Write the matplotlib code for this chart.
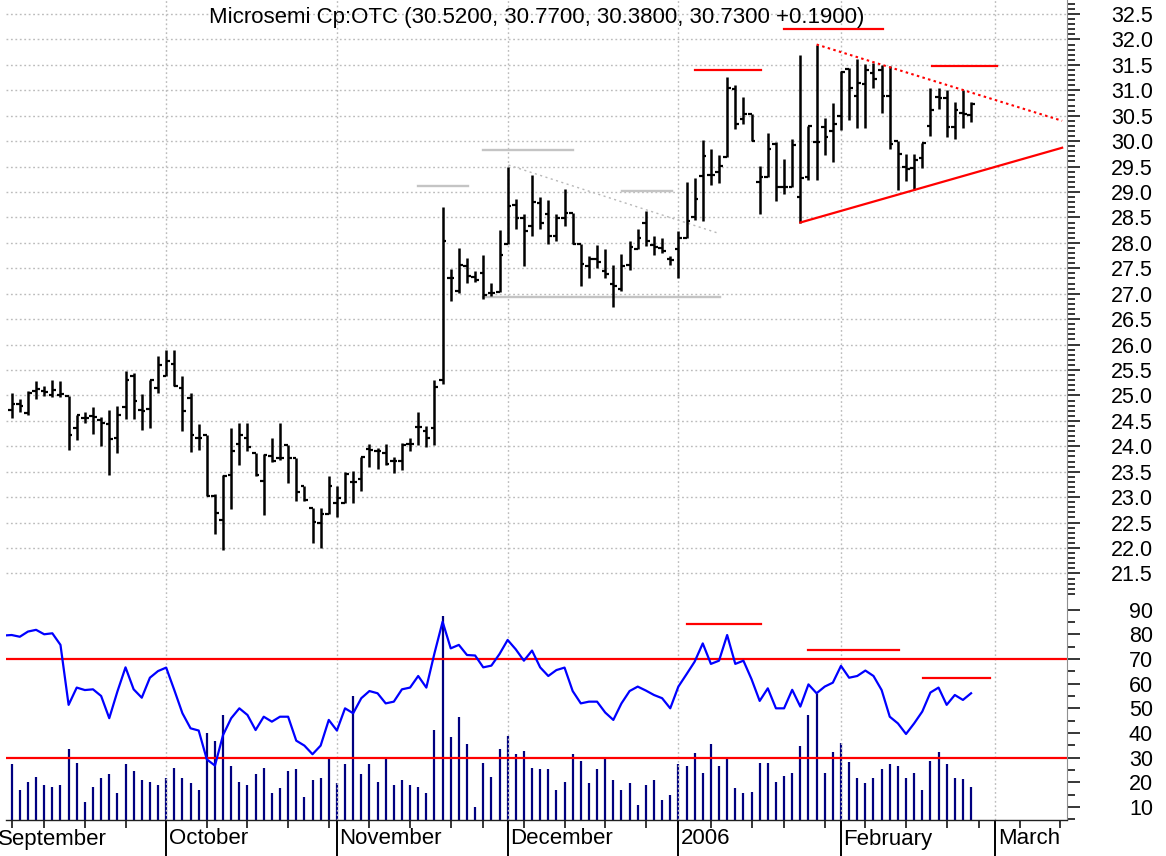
import numpy as np
import pandas as pd
import matplotlib
matplotlib.use("Agg")
import matplotlib.pyplot as plt
from matplotlib.transforms import blended_transform_factory

plt.rcParams['font.family'] = ['Liberation Sans', 'DejaVu Sans']

# ---------------- data ----------------
title = "Microsemi Cp:OTC (30.5200, 30.7700, 30.3800, 30.7300 +0.1900)"
holidays = ['2005-09-05', '2005-11-24', '2005-12-26', '2006-01-02', '2006-01-16', '2006-02-20']
first_day = '2005-09-06'
month_labels = ['September', 'October', 'November', 'December', '2006', 'February', 'March']

opens = [24.72,24.84,24.66,25.08,25.08,25.00,25.00,24.98,24.35,24.55,
         24.60,24.51,24.43,24.17,24.77,25.38,24.72,24.74,25.15,25.38,
         25.61,25.15,24.95,24.16,24.23,23.02,22.55,23.44,24.05,24.16,
         23.87,23.31,23.80,23.77,24.03,23.77,23.21,22.79,22.49,22.66,
         22.89,22.89,23.29,23.36,23.95,23.90,23.87,23.72,23.71,24.05,
         24.38,24.30,24.35,25.30,27.30,27.05,27.55,27.33,27.40,27.02,
         27.04,27.97,28.75,28.49,28.33,28.78,28.57,28.13,28.49,28.59,
         27.97,27.55,27.68,27.45,27.20,27.10,27.56,27.87,28.39,27.96,
         27.90,27.68,27.87,28.10,28.50,29.32,29.34,29.40,29.68,31.02,
         30.44,30.53,29.20,29.30,29.95,29.10,29.10,28.90,29.30,29.98,
         30.28,30.20,30.50,31.42,30.89,31.13,31.34,31.40,30.89,30.00,
         29.50,29.48,29.67,30.29,30.86,30.84,30.28,30.55,30.52]
highs = [25.05,24.92,25.08,25.28,25.18,25.31,25.28,24.98,24.62,24.67,
         24.77,24.58,24.71,24.80,25.48,25.44,25.02,25.31,25.78,25.89,
         25.89,25.39,25.05,24.43,24.23,23.06,23.44,24.36,24.46,24.46,
         23.87,23.84,24.17,24.46,24.03,23.77,23.21,22.79,22.79,23.42,
         23.22,23.49,23.51,23.79,24.05,23.97,24.05,23.79,24.06,24.16,
         24.67,24.39,25.30,28.70,27.49,27.89,27.70,27.44,27.76,27.22,
         28.26,29.50,28.87,28.57,29.34,28.90,28.85,28.57,29.06,28.59,
         27.97,27.74,27.95,27.87,27.56,27.79,28.03,28.28,28.62,28.13,
         28.10,27.74,28.23,29.19,29.28,30.03,29.85,29.72,31.26,31.10,
         30.87,30.54,29.52,30.16,29.98,29.65,30.05,31.70,30.29,31.90,
         30.46,30.74,31.37,31.44,31.62,31.52,31.54,31.50,31.47,30.00,
         29.75,29.74,29.96,31.04,31.04,31.00,30.77,31.00,30.77]
lows = [24.56,24.67,24.62,24.92,24.98,24.97,24.97,23.92,24.12,24.45,
        24.25,24.01,23.44,23.86,24.54,24.53,24.33,24.36,25.05,25.38,
        25.19,24.30,23.88,23.92,23.02,22.28,21.97,22.76,23.64,23.90,
        23.41,22.64,23.70,23.73,23.28,22.92,22.92,22.10,22.00,22.66,
        22.60,22.89,22.89,23.12,23.60,23.56,23.64,23.48,23.53,23.90,
        24.03,23.99,24.03,25.23,26.86,27.02,27.22,27.24,26.90,26.96,
        27.04,27.97,28.28,27.55,28.13,28.28,27.98,28.03,28.33,27.97,
        27.15,27.30,27.51,27.30,26.73,27.06,27.46,27.87,27.94,27.77,
        27.81,27.56,27.30,28.10,28.44,28.42,29.14,29.17,29.68,30.23,
        30.34,30.00,28.56,29.30,28.82,28.97,29.10,28.39,29.23,29.23,
        29.72,29.58,30.21,30.42,30.25,30.25,31.04,30.56,29.85,29.03,
        29.22,29.03,29.48,30.11,30.64,30.08,30.05,30.25,30.38]
closes = [24.84,24.80,25.05,25.13,25.06,25.10,25.03,24.22,24.62,24.55,
          24.58,24.45,24.15,24.62,25.30,24.89,24.70,25.31,25.59,25.67,
          25.19,24.70,24.23,24.16,23.02,22.69,23.41,23.90,24.23,23.99,
          23.44,23.82,23.71,23.77,23.77,23.10,22.95,22.51,22.66,23.21,
          22.98,23.46,23.29,23.79,23.92,23.90,23.66,23.72,24.03,24.05,
          24.38,24.16,25.17,28.03,27.30,27.56,27.35,27.27,26.97,27.02,
          27.76,28.72,28.49,28.23,28.80,28.39,28.13,28.49,28.59,27.97,
          27.59,27.68,27.63,27.39,27.15,27.55,27.92,28.10,28.03,27.92,
          27.84,27.66,28.10,28.42,28.87,29.70,29.34,29.52,31.04,30.33,
          30.53,30.00,29.30,29.85,29.10,29.10,29.93,29.28,30.29,29.98,
          30.08,30.34,31.35,31.04,31.14,31.40,31.22,30.89,29.95,29.75,
          29.45,29.62,29.96,30.62,30.84,30.28,30.62,30.54,30.73]
# RSI starts one session before the first price bar
rsi = [79.5,
       79.7,79.0,81.1,81.8,80.0,80.4,75.7,51.4,58.4,57.4,
       57.7,55.0,46.0,56.8,66.6,57.7,54.3,62.4,65.1,66.5,
       57.4,48.0,41.9,41.0,29.3,26.8,39.2,46.0,50.0,47.3,
       41.2,46.6,44.6,46.6,46.6,36.9,34.9,31.4,34.9,45.3,
       41.0,50.0,48.0,54.1,57.0,56.1,52.0,52.7,57.7,58.4,
       63.1,58.4,72.3,85.1,74.3,75.7,71.6,71.4,66.6,67.3,
       72.0,77.7,73.9,69.3,73.4,66.6,63.1,65.5,66.5,57.0,
       52.0,52.7,52.7,48.3,45.3,52.0,57.0,58.8,57.2,55.4,
       54.1,50.0,58.8,63.8,68.9,76.3,68.0,69.3,79.7,68.0,
       69.3,61.8,53.0,58.1,50.0,50.0,57.5,50.7,59.7,56.1,
       58.8,60.4,67.2,62.4,63.1,65.3,63.1,57.4,46.6,43.9,
       39.6,43.9,48.7,56.4,58.4,51.4,55.4,53.4,56.1]
volume = [280,150,190,215,175,165,175,355,285,90,
          165,210,230,135,280,245,200,190,175,210,
          260,210,185,150,435,395,525,270,190,175,
          230,260,135,160,245,255,115,200,210,305,
          185,280,620,230,280,190,315,175,200,175,
          165,135,450,1020,415,515,380,65,285,215,
          355,420,330,345,260,255,255,150,190,330,
          295,185,255,305,200,150,185,75,175,200,
          100,125,280,270,335,235,380,270,310,160,
          135,140,285,285,190,220,235,370,525,630,
          235,340,385,290,210,185,210,255,280,270,
          210,235,150,295,340,280,210,205,165]

# annotation levels (bar index, price) drawn on the chart
gray_levels = [(50.0, 56.1, 29.12), (58.0, 69.0, 29.83), (75.1, 81.2, 29.02), (58.0, 87.1, 26.94)]
gray_trend = [(61.1, 29.53), (86.9, 28.19)]
red_levels = [(84.0, 92.2, 31.40), (95.0, 107.2, 32.20), (113.2, 121.2, 31.48)]
red_dotted_trend = [(99.0, 31.90), (129.2, 30.40)]
red_support_trend = [(97.0, 28.40), (129.2, 29.87)]
rsi_bands = [70, 30]
rsi_marks = [(83.0, 92.2, 84.1), (97.9, 109.1, 73.5), (112.1, 120.3, 62.4)]

# ---------------- calendar ----------------
days = pd.bdate_range('2005-09-01', '2006-03-24', freq='C', holidays=holidays)
start = list(days).index(pd.Timestamp(first_day))
pos = np.arange(len(days)) - start
xlim = (-0.7, 129.8)
month_all = [int(p) for k, p in enumerate(pos) if k == 0 or days[k].month != days[k - 1].month]
month_pos = [p for p in month_all if xlim[0] <= p <= xlim[1]]
week_pos = [int(p) for k, p in enumerate(pos)
            if (k == 0 or days[k].weekday() <= days[k - 1].weekday())
            and p not in month_all and xlim[0] <= p <= xlim[1]]

n = len(closes)
x = np.arange(n)
xr = np.arange(-1, n)

# ---------------- figure ----------------
W, H = 1166, 856
fig = plt.figure(figsize=(W / 100, H / 100), dpi=100)
L, R = 6, 1067
top_panel_bottom = 598
bottom_panel_bottom = 820
ax1 = fig.add_axes([L / W, 1 - top_panel_bottom / H, (R - L) / W, top_panel_bottom / H])
axv = fig.add_axes([L / W, 1 - bottom_panel_bottom / H, (R - L) / W,
                    (bottom_panel_bottom - top_panel_bottom) / H])
ax2 = fig.add_axes([L / W, 1 - bottom_panel_bottom / H, (R - L) / W,
                    (bottom_panel_bottom - top_panel_bottom) / H])
ax2.set_facecolor('none')

grid_kw = dict(color='#bcbcbc', linestyle=(0, (1.3, 1.9)), linewidth=1.0)

# ---- price panel
ax1.vlines(x, lows, highs, color='black', linewidth=1.8, zorder=3)
ax1.hlines(opens, x - 0.45, x, color='black', linewidth=1.6, zorder=3)
ax1.hlines(closes, x, x + 0.45, color='black', linewidth=1.6, zorder=3)

for x0, x1, lv in gray_levels:
    ax1.plot([x0, x1], [lv, lv], color='#c4c4c4', linewidth=1.7, zorder=2)
ax1.plot([p[0] for p in gray_trend], [p[1] for p in gray_trend], color='#b8b8b8',
         linestyle=(0, (1.5, 2.5)), linewidth=1.0, zorder=2)
for x0, x1, lv in red_levels:
    ax1.plot([x0, x1], [lv, lv], color='#ff0000', linewidth=1.6, zorder=4)
ax1.plot([p[0] for p in red_dotted_trend], [p[1] for p in red_dotted_trend], color='#ff0000',
         linestyle=(0, (1.2, 1.6)), linewidth=1.5, zorder=4)
ax1.plot([p[0] for p in red_support_trend], [p[1] for p in red_support_trend], color='#ff0000',
         linewidth=1.6, zorder=4)

ax1.text(0.5, 1 - 18 / top_panel_bottom, title, transform=ax1.transAxes, ha='center', va='center',
         fontsize=16, color='black', zorder=5)

ax1.set_xticks(month_pos)
ax1.tick_params(axis='x', length=0, labelbottom=False)
ax1.yaxis.tick_right()
ax1.set_yticks(np.arange(21.5, 32.51, 0.5))
ax1.set_yticklabels(['%.1f' % v for v in np.arange(21.5, 32.51, 0.5)])
ax1.set_yticks(np.arange(21.1, 32.75, 0.1), minor=True)
ax1.tick_params(axis='y', which='major', direction='out', length=9.4, width=1.1, pad=52.5,
                labelsize=15.5, colors='black')
ax1.tick_params(axis='y', which='minor', direction='out', length=5.5, width=1.1)
for lab in ax1.get_yticklabels():
    lab.set_horizontalalignment('right')
ax1.grid(axis='both', which='major', **grid_kw)
for s in ['top', 'left', 'bottom']:
    ax1.spines[s].set_visible(False)
ax1.spines['right'].set_color('#909090')
ax1.spines['right'].set_linewidth(0.8)
ax1.set_xlim(*xlim)
ax1.set_ylim(21.017, 32.775)

# ---- volume (behind RSI)
axv.vlines(x, 0, volume, color='#000080', linewidth=1.6)
axv.axis('off')
axv.set_xlim(*xlim)
axv.set_ylim(0, 5 * (bottom_panel_bottom - top_panel_bottom))

# ---- RSI panel
for b in rsi_bands:
    ax2.axhline(b, color='#ff0000', linewidth=1.6, zorder=2)
for x0, x1, lv in rsi_marks:
    ax2.plot([x0, x1], [lv, lv], color='#ff0000', linewidth=1.6, zorder=2)
ax2.plot(xr, rsi, color='#0000ff', linewidth=1.6, zorder=3)

ax2.set_xticks(month_pos)
ax2.set_xticks(week_pos, minor=True)
ax2.tick_params(axis='x', which='major', direction='out', length=27, width=1.4, labelbottom=False)
ax2.tick_params(axis='x', which='minor', direction='out', length=5.8, width=1.1)
ax2.grid(axis='x', which='major', **grid_kw)
ax2.yaxis.tick_right()
ax2.set_yticks(np.arange(10, 91, 10))
ax2.set_yticklabels([str(v) for v in range(10, 91, 10)])
ax2.set_yticks(np.arange(5, 95, 5), minor=True)
ax2.tick_params(axis='y', which='major', direction='out', length=9.4, width=1.1, pad=52.5,
                labelsize=15.5)
ax2.tick_params(axis='y', which='minor', direction='out', length=5.5, width=1.1)
for lab in ax2.get_yticklabels():
    lab.set_horizontalalignment('right')
for s in ['top', 'left']:
    ax2.spines[s].set_visible(False)
ax2.spines['right'].set_color('#909090')
ax2.spines['right'].set_linewidth(0.8)
ax2.spines['bottom'].set_color('#202020')
ax2.spines['bottom'].set_linewidth(1.0)
ax2.set_xlim(*xlim)
ax2.set_ylim(4.75, 94.7)

trans = blended_transform_factory(ax2.transData, ax2.transAxes)
for p, lab in zip(month_all, month_labels):
    ax2.text(p + 0.3, -19 / (bottom_panel_bottom - top_panel_bottom), lab, transform=trans,
             ha='left', va='center', fontsize=16, clip_on=False)

fig.savefig('out.png', dpi=100)
